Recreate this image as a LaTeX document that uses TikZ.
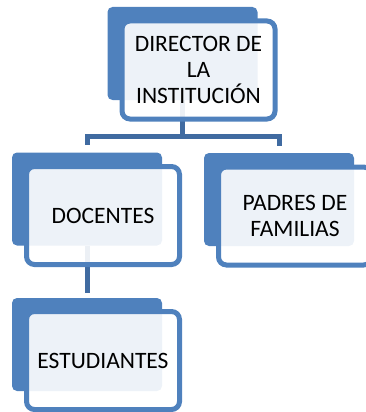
\documentclass[tikz,border=0pt]{standalone}
\usepackage{fontspec}
\setmainfont{Carlito}
\usepackage{tikz}
\usetikzlibrary{positioning}
\usepackage{xcolor}
\definecolor{boxblue}{RGB}{79,129,189}
\definecolor{linkblue}{RGB}{64,107,161}

\begin{document}
\begin{tikzpicture}[x=1pt,y=-1pt,
        back/.style={rectangle,rounded corners=5pt,fill=boxblue,minimum width=150pt,minimum height=93pt,inner sep=0pt},
        front/.style={rectangle,rounded corners=8pt,draw=boxblue,line width=5pt,fill=white,fill opacity=0.9,text opacity=1,minimum width=153pt,minimum height=98pt,align=center,font=\fontsize{23.5}{26}\selectfont},
        link/.style={draw=linkblue,line width=5pt}]
        \useasboundingbox (0,0) rectangle (365,412);

        \node [back] (dirb) at (182.5,53.5) {};
        \node [back] (docb) at (87,199) {};
        \node [back] (padb) at (279,199.5) {};
        \node [back] (estb) at (87,344.5) {};
        \coordinate (split) at (182.5,136);

        \draw [link] (dirb.south) -- (split);
        \draw [link,shorten >=7pt] (split) -| (docb.north);
        \draw [link,shorten >=7pt] (split) -| (padb.north);
        \draw [link,shorten >=5pt] (docb.south) -- (estb.north);

        \node [front] (dir) at (198.5,70) {DIRECTOR DE\\LA\\INSTITUCI\'ON};
        \node [front] (doc) at (103,215.5) {DOCENTES};
        \node [front] (pad) at (295,216) {PADRES DE\\FAMILIAS};
        \node [front] (est) at (103,360.5) {ESTUDIANTES};
    \end{tikzpicture}
\end{document}
